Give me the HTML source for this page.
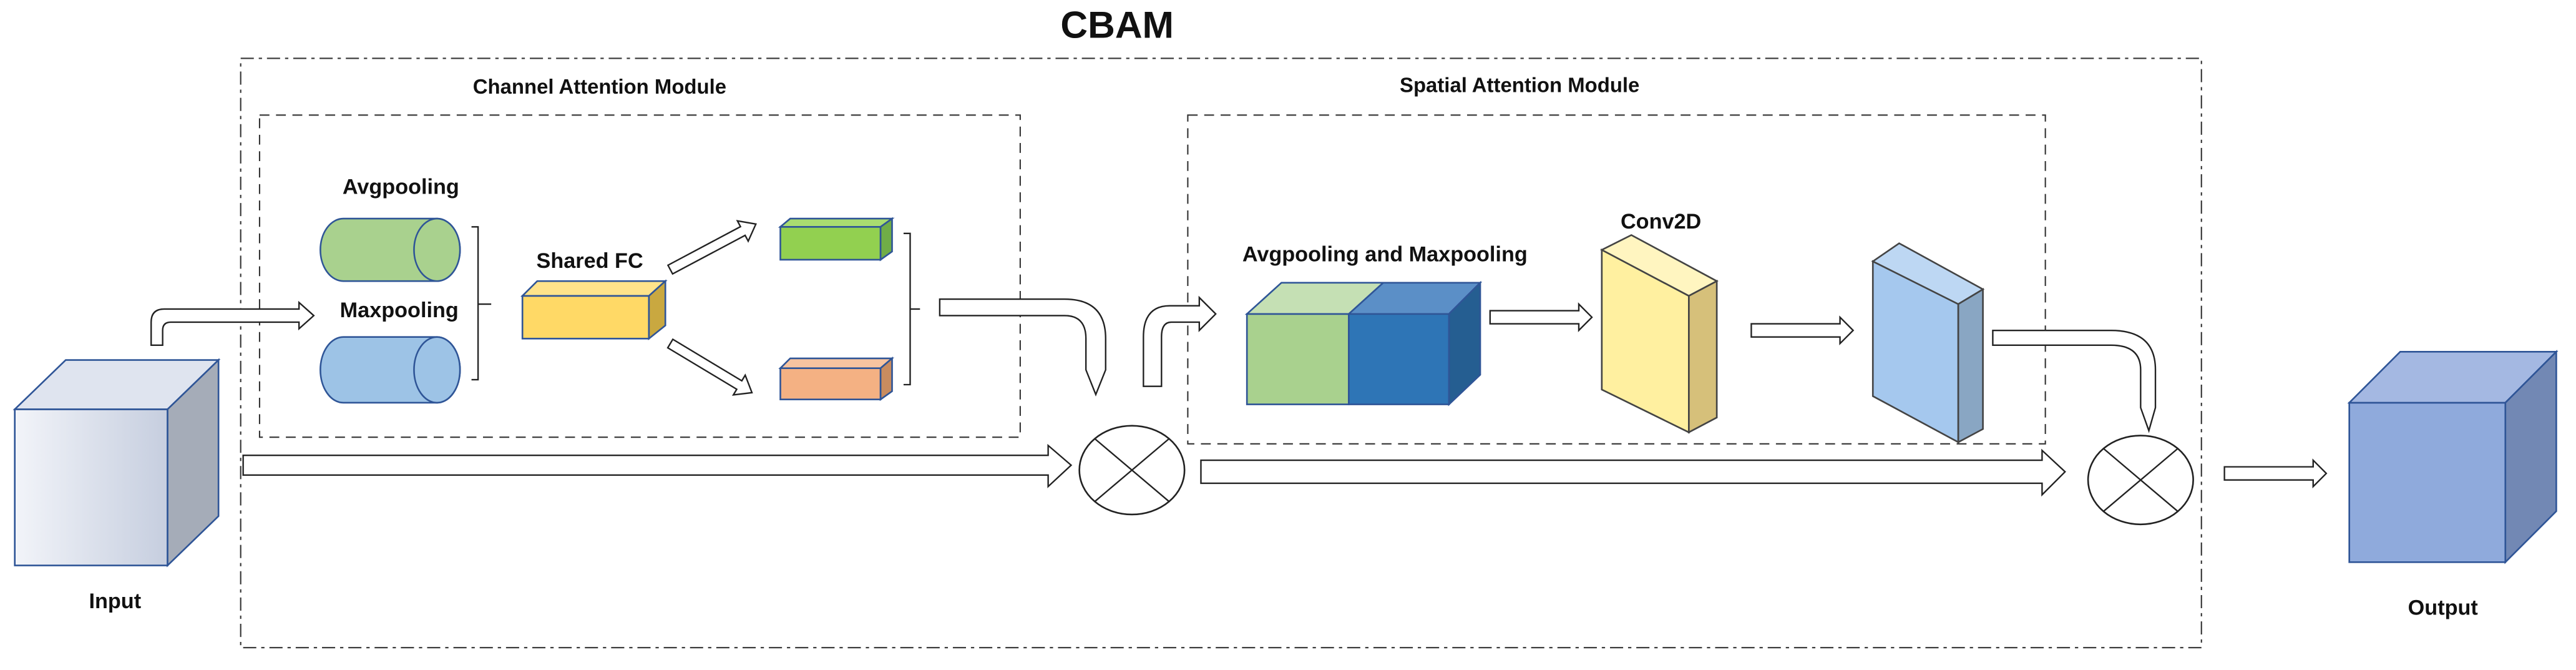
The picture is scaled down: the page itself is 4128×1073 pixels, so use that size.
<!DOCTYPE html>
<html><head><meta charset="utf-8"><style>
html,body{margin:0;padding:0;background:#fff;width:4128px;height:1073px;overflow:hidden}
svg{display:block}
text{font-family:"Liberation Sans",sans-serif;font-weight:bold;fill:#111}
</style></head><body>
<svg width="4128" height="1073" viewBox="0 0 1568 407.6" preserveAspectRatio="none" xmlns="http://www.w3.org/2000/svg">
<defs>
<linearGradient id="gi" x1="0" x2="1" y1="0" y2="0"><stop offset="0" stop-color="#f2f4f9"/><stop offset="1" stop-color="#c6cedf"/></linearGradient>
</defs>
<rect width="1568" height="407.6" fill="#fff"/>
<text x="680" y="23" font-size="23" text-anchor="middle">CBAM</text>
<rect x="146.5" y="35.5" width="1193.5" height="358.5" fill="none" stroke="#333" stroke-width="0.8" stroke-dasharray="8 3 2 3"/>
<rect x="158" y="70" width="463" height="196" fill="none" stroke="#333" stroke-width="0.8" stroke-dasharray="6 4"/>
<rect x="723" y="70" width="522" height="200" fill="none" stroke="#333" stroke-width="0.8" stroke-dasharray="6 4"/>
<text x="365" y="57" font-size="12.5" text-anchor="middle">Channel Attention Module</text>
<text x="925" y="56" font-size="12.5" text-anchor="middle">Spatial Attention Module</text>

<!-- input cube -->
<g stroke="#2f5597" stroke-width="1">
<rect x="9" y="249" width="93" height="95" fill="url(#gi)"/>
<polygon points="9,249 40,219 133,219 102,249" fill="#dfe4ef"/>
<polygon points="102,249 133,219 133,314 102,344" fill="#a5acb8"/>
</g>
<text x="70" y="370" font-size="13" text-anchor="middle">Input</text>

<!-- cylinders -->
<g stroke="#2f5597" stroke-width="1">
<path d="M209,133 L266,133 A14,19 0 0 1 266,171 L209,171 A14,19 0 0 1 209,133 Z" fill="#a9d18e"/>
<ellipse cx="266" cy="152" rx="14" ry="19" fill="#a9d18e"/>
<path d="M209,205 L266,205 A14,20 0 0 1 266,245 L209,245 A14,20 0 0 1 209,205 Z" fill="#9dc3e6"/>
<ellipse cx="266" cy="225" rx="14" ry="20" fill="#9dc3e6"/>
</g>
<text x="244" y="118" font-size="13" text-anchor="middle">Avgpooling</text>
<text x="243" y="193" font-size="13" text-anchor="middle">Maxpooling</text>
<path d="M287,138 L291,138 L291,231 L287,231 M291,185 L299,185" fill="none" stroke="#222" stroke-width="0.9"/>

<!-- shared FC -->
<text x="359" y="163" font-size="13" text-anchor="middle">Shared FC</text>
<g stroke="#2f5597" stroke-width="1">
<rect x="318" y="180" width="77" height="26" fill="#ffd966"/>
<polygon points="318,180 327,171 405,171 395,180" fill="#ffe38a"/>
<polygon points="395,180 405,171 405,198 395,206" fill="#c9a840"/>
<rect x="475" y="138" width="61" height="20" fill="#92d050"/>
<polygon points="475,138 481,133 543,133 536,138" fill="#a9dc70"/>
<polygon points="536,138 543,133 543,153 536,158" fill="#70ad47"/>
<rect x="475" y="224" width="61" height="19" fill="#f4b183"/>
<polygon points="475,224 481,218 543,218 536,224" fill="#f7c4a0"/>
<polygon points="536,224 543,218 543,238 536,243" fill="#c98c5f"/>
</g>
<path d="M550,142 L554,142 L554,234 L550,234 M554,188 L560,188" fill="none" stroke="#222" stroke-width="0.9"/>

<g fill="#fff" stroke="#222" stroke-width="0.9">
<polygon transform="translate(408,164) rotate(-28)" points="0,-3 50,-3 50,-7 59,0 50,7 50,3 0,3"/>
<polygon transform="translate(408,209) rotate(31)" points="0,-3 49,-3 49,-7 58,0 49,7 49,3 0,3"/>
<path d="M92,210 L92,196 Q92,188 100,188 L182,188 L182,184 L191,192 L182,200 L182,196 L104,196 Q99,196 99,201 L99,210 Z"/>
<path d="M572,182 L648,182 Q673,182 673,206 L673,225 L667,240 L661,225 L661,206 Q661,192 648,192 L572,192 Z"/>
<polygon points="148,277 638,277 638,271 652,283 638,296 638,289 148,289"/>
<path d="M696,235 L696,205 Q696,186 712,186 L730,186 L730,181 L740,191 L730,201 L730,196 L713,196 Q707,196 707,205 L707,235 Z"/>
<polygon points="731,280 1243,280 1243,274 1257,287 1243,301 1243,294 731,294"/>
<polygon points="907,189 961,189 961,185 969,193 961,201 961,197 907,197"/>
<polygon points="1066,197 1120,197 1120,193 1128,201 1120,209 1120,205 1066,205"/>
<polygon points="1354,284 1408,284 1408,280 1416,288 1408,296 1408,292 1354,292"/>
<path d="M1213,201 L1285,201 Q1312,201 1312,225 L1312,248 L1308,262 L1303,248 L1303,225 Q1303,210 1285,210 L1213,210 Z"/>
</g>

<g fill="#fff" stroke="#222" stroke-width="1">
<ellipse cx="689" cy="286" rx="32" ry="27"/>
<ellipse cx="1303" cy="292" rx="32" ry="27"/>
</g>
<g stroke="#222" stroke-width="0.9">
<line x1="666.4" y1="266.9" x2="711.6" y2="305.1"/><line x1="711.6" y1="266.9" x2="666.4" y2="305.1"/>
<line x1="1280.4" y1="272.9" x2="1325.6" y2="311.1"/><line x1="1325.6" y1="272.9" x2="1280.4" y2="311.1"/>
</g>

<text x="843" y="159" font-size="13" text-anchor="middle">Avgpooling and Maxpooling</text>
<g stroke="#2f5597" stroke-width="1">
<rect x="759" y="191" width="62" height="55" fill="#a9d18e"/>
<polygon points="759,191 780,172 842,172 821,191" fill="#c5e0b4"/>
<rect x="821" y="191" width="61" height="55" fill="#2e75b6"/>
<polygon points="821,191 842,172 901,172 882,191" fill="#5b8fc7"/>
<polygon points="882,191 901,172 901,228 882,246" fill="#255e91"/>
</g>
<text x="1011" y="139" font-size="13" text-anchor="middle">Conv2D</text>
<g stroke="#444" stroke-width="1">
<polygon points="975,152 1028,180 1028,263 975,237" fill="#fff0a0"/>
<polygon points="975,152 993,143 1045,171 1028,180" fill="#fff5c0"/>
<polygon points="1028,180 1045,171 1045,254 1028,263" fill="#d6c07a"/>
<polygon points="1140,159 1192,185 1192,269 1140,241" fill="#a5c8ee"/>
<polygon points="1140,159 1156,148 1207,176 1192,185" fill="#bdd7f3"/>
<polygon points="1192,185 1207,176 1207,261 1192,269" fill="#89a6c3"/>
</g>

<g stroke="#2f5597" stroke-width="1">
<rect x="1430" y="245" width="95" height="97" fill="#8faadc"/>
<polygon points="1430,245 1461,214 1556,214 1525,245" fill="#a4b8e2"/>
<polygon points="1525,245 1556,214 1556,311 1525,342" fill="#7288b4"/>
</g>
<text x="1487" y="374" font-size="13" text-anchor="middle">Output</text>
</svg>
</body></html>
